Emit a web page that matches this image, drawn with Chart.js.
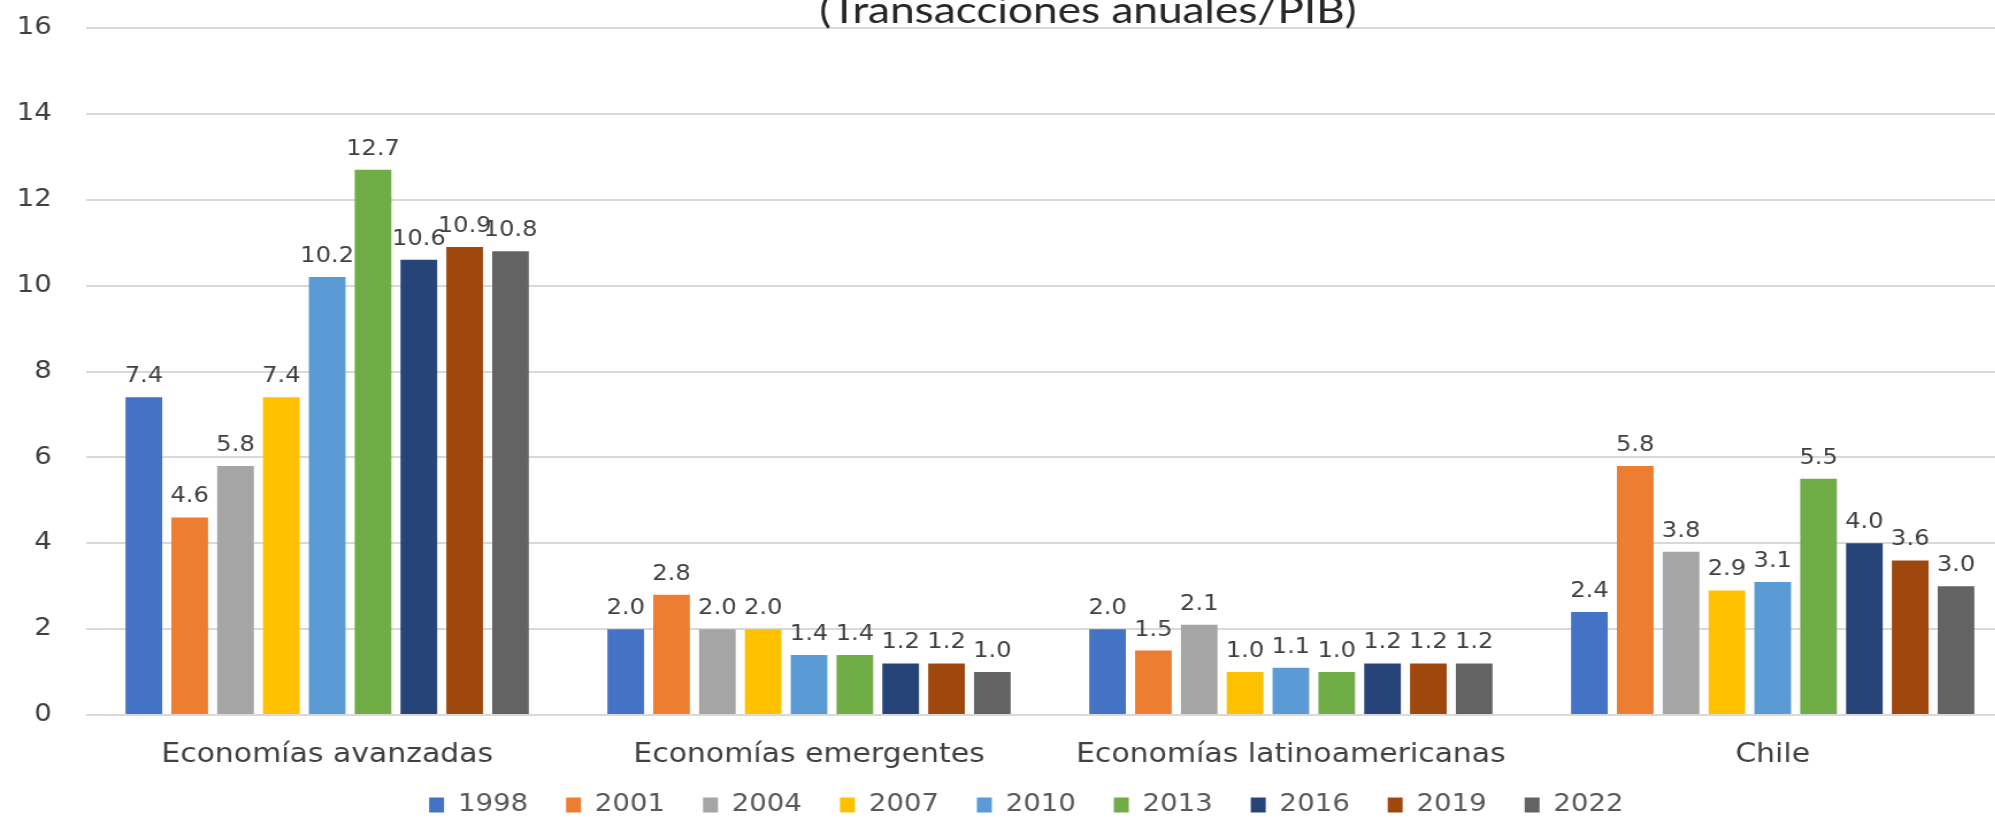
<!DOCTYPE html>
<html>
<head>
<meta charset="utf-8">
<script src="https://cdn.jsdelivr.net/npm/chart.js@4/dist/chart.umd.min.js"></script>
<style>
  html, body { margin: 0; padding: 0; width: 1995px; height: 819px; overflow: hidden; background: #fff; }
  /* the original picture is stretched sideways, so the chart is too */
  #wrap { width: 1765px; height: 837px; transform: scaleX(1.15); transform-origin: 0 0; }
</style>
</head>
<body>
<div id="wrap"><canvas id="myChart"></canvas></div>
<script>
  // grupos del eje x
  const categorias = ["Economías avanzadas", "Economías emergentes", "Economías latinoamericanas", "Chile"];

  // años de la leyenda
  const anios = ["1998", "2001", "2004", "2007", "2010", "2013", "2016", "2019", "2022"];

  // valores por año (avanzadas, emergentes, latinoamericanas, Chile)
  const v1998 = [7.4, 2.0, 2.0, 2.4];
  const v2001 = [4.6, 2.8, 1.5, 5.8];
  const v2004 = [5.8, 2.0, 2.1, 3.8];
  const v2007 = [7.4, 2.0, 1.0, 2.9];
  const v2010 = [10.2, 1.4, 1.1, 3.1];
  const v2013 = [12.7, 1.4, 1.0, 5.5];
  const v2016 = [10.6, 1.2, 1.2, 4.0];
  const v2019 = [10.9, 1.2, 1.2, 3.6];
  const v2022 = [10.8, 1.0, 1.2, 3.0];
  const valores = [v1998, v2001, v2004, v2007, v2010, v2013, v2016, v2019, v2022];

  // ticks del eje y
  const ticksY = [0, 2, 4, 6, 8, 10, 12, 14, 16];

  const titulo = "(Transacciones anuales/PIB)";

  const colores = ["#4472C4", "#ED7D31", "#A5A5A5", "#FFC000", "#5B9BD5",
                   "#70AD47", "#264478", "#9E480E", "#636363"];

  // etiquetas encima de las barras
  const etiquetas = {
    id: "etiquetas",
    afterDatasetsDraw(chart) {
      const ctx = chart.ctx;
      ctx.save();
      ctx.font = "21px 'DejaVu Sans'";
      ctx.fillStyle = "#404040";
      ctx.textAlign = "center";
      ctx.textBaseline = "alphabetic";
      chart.data.datasets.forEach((ds, i) => {
        chart.getDatasetMeta(i).data.forEach((bar, j) => {
          ctx.fillText(ds.data[j].toFixed(1), bar.x, bar.y - 15);
        });
      });
      ctx.restore();
    },
  };

  // titulo cortado arriba, como en el original
  const tituloArriba = {
    id: "tituloArriba",
    afterDraw(chart) {
      const ctx = chart.ctx;
      ctx.save();
      ctx.font = "37px Lato";
      ctx.fillStyle = "#262626";
      ctx.textAlign = "center";
      ctx.textBaseline = "alphabetic";
      const w = ctx.measureText(titulo).width;
      ctx.translate(946, 23);
      ctx.scale(467 / w, 1);
      ctx.fillText(titulo, 0, 0);
      ctx.restore();
    },
  };

  // mueve la leyenda un poco (a la derecha y arriba)
  const moverLeyenda = {
    id: "moverLeyenda",
    afterLayout(chart) {
      const lg = chart.legend;
      lg.left += 17; lg.right += 17;
      lg.top -= 10; lg.bottom -= 10;
    },
  };

  const data = {
    labels: categorias,
    datasets: anios.map((a, i) => ({
      label: a,
      data: valores[i],
      backgroundColor: colores[i],
      borderWidth: 0,
      categoryPercentage: 0.856,
      barPercentage: 0.8,
    })),
  };

  const config = {
    type: "bar",
    data: data,
    options: {
      responsive: true,
      maintainAspectRatio: false,
      animation: false,
      devicePixelRatio: 1,
      layout: {
        padding: { top: 28, left: 0, right: 14, bottom: 0 },
      },
      scales: {
        x: {
          grid: { display: false, drawTicks: false },
          border: { display: false },
          ticks: {
            color: "#404040",
            font: { family: "DejaVu Sans", size: 26 },
            padding: 25,
            maxRotation: 0,
          },
          afterFit: (s) => { s.height = 55; },
        },
        y: {
          min: 0,
          max: 16,
          afterBuildTicks: (s) => { s.ticks = ticksY.map((v) => ({ value: v })); },
          grid: { color: "#d9d9d9", lineWidth: 2, drawTicks: false },
          border: { display: false },
          ticks: {
            color: "#404040",
            font: { family: "DejaVu Sans", size: 24 },
            padding: 30,
          },
          afterFit: (s) => {
            s.width = 75;
            s.paddingTop = 0;
            s.paddingBottom = 0;
          },
        },
      },
      plugins: {
        legend: {
          position: "bottom",
          labels: {
            boxWidth: 13,
            boxHeight: 15,
            padding: 33,
            color: "#595959",
            font: { family: "DejaVu Sans", size: 24 },
          },
        },
        tooltip: { enabled: false },
      },
    },
    plugins: [etiquetas, tituloArriba, moverLeyenda],
  };

  const myChart = new Chart(document.getElementById("myChart"), config);
</script>
</body>
</html>
